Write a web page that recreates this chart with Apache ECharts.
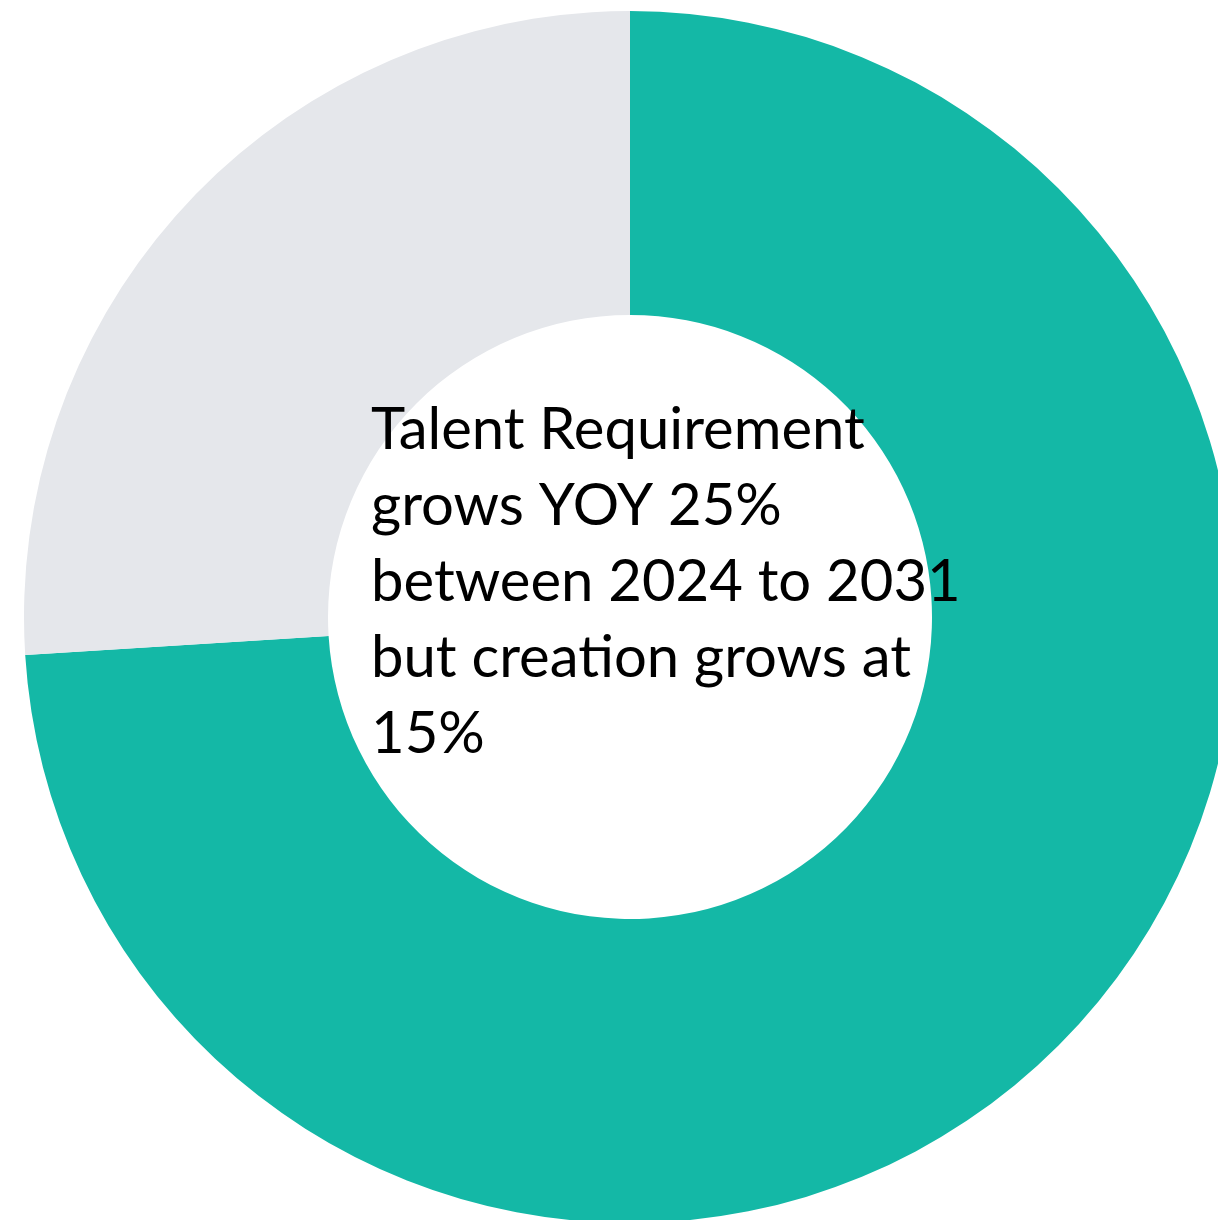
<!DOCTYPE html>
<html><head><meta charset="utf-8">
<script src="https://cdn.jsdelivr.net/npm/echarts@6/dist/echarts.min.js"></script>
<style>html,body{margin:0;padding:0;background:#fff}#c{width:1218px;height:1220px}</style>
</head><body><div id="c"></div>
<script>
const categories = ['Talent requirement gap', 'Talent creation'];
const values = [74, 26];
const colors = ['#14B8A6', '#E5E7EB'];
const centerText = 'Talent Requirement\ngrows YOY 25%\nbetween 2024 to 2031\nbut creation grows at\n15%';

const chart = echarts.init(document.getElementById('c'), null, {renderer: 'canvas'});
chart.setOption({
  animation: false,
  series: [{
    type: 'pie',
    center: [630, 617],
    radius: [302, 606],
    startAngle: 90,
    clockwise: true,
    label: {show: false},
    labelLine: {show: false},
    emphasis: {disabled: true},
    itemStyle: {borderWidth: 0},
    data: categories.map((n, i) => ({name: n, value: values[i], itemStyle: {color: colors[i]}}))
  }],
  graphic: [{
    type: 'text',
    z: 100,
    zlevel: 1,
    left: 371,
    top: 392,
    style: {
      text: centerText,
      font: '58px Lato',
      lineHeight: 76,
      fill: '#000'
    }
  }]
});
</script></body></html>
